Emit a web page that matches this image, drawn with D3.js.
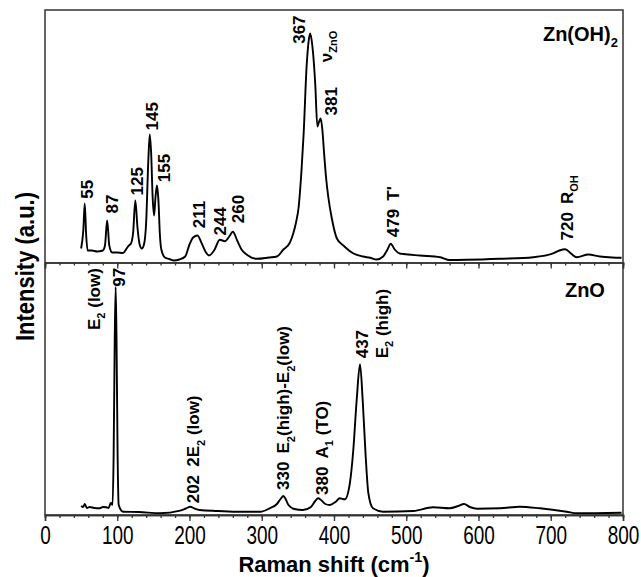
<!DOCTYPE html>
<html>
<head>
<meta charset="utf-8">
<script src="https://cdn.jsdelivr.net/npm/d3@7"></script>
<style>
    body { margin: 0; background: #fff; }
    text { font-family: "Liberation Sans", Arial, sans-serif; fill: #000; }
</style>
</head>
<body>
<div id="container"></div>
<script>
"use strict";

// Zn(OH)2 spectrum (top panel)
const znohShift = [50, 53, 55, 57, 59, 65, 72, 80, 83, 86, 89, 93, 100, 108, 113, 116, 119, 122, 125, 128,
    131, 134, 137, 140, 143, 145, 147, 149, 151, 153, 155, 157, 159, 161, 166, 172, 178, 186, 194, 200,
    205, 211, 217, 222, 227, 234, 242, 249, 255, 260, 266, 272, 279, 293, 310, 321, 330, 339, 344, 348,
    351, 355, 358, 362, 365, 367, 370, 374, 377, 379, 381.5, 384, 386, 389, 392, 397, 404, 413, 427, 440,
    450, 459, 468, 474, 478.5, 484, 491, 496, 519, 547, 560, 584, 630, 676, 704, 712, 720, 728, 736, 752,
    768, 785, 798];
const znohIntensity = [14, 32, 59, 27, 12, 12, 11, 12, 17, 42, 17, 10, 10, 9.5, 14, 17, 19, 30, 62, 35,
    18, 14, 18, 40, 102, 128, 108, 65, 47, 66, 77, 62, 28, 13, 5, 3.5, 2, 3, 6, 18,
    25, 27, 19, 11, 7, 12, 22.7, 21.3, 26, 30.7, 22, 13, 8, 3.7, 5, 6, 13, 20, 30, 42,
    55, 92, 129, 195, 222, 229, 217, 179, 136, 140, 144, 132, 112, 85, 66, 44, 24, 17, 9, 6,
    4.7, 3, 6, 13, 18.7, 13, 9, 8.5, 7, 5.3, 2.5, 2.7, 3.7, 5.3, 9.3, 12, 13.3, 9, 5.3, 8,
    6, 5, 4.7];

// ZnO spectrum (bottom panel)
const znoShift = [50, 53, 55, 58, 62, 68, 76, 80, 85, 88, 91, 93.5, 95, 96.5, 97.8, 99, 100.5, 102, 108, 130,
    159, 187, 195, 201, 207, 214, 240, 260, 298, 311, 321, 326, 330, 333, 337, 345, 357, 368, 374, 378,
    382, 388, 394, 402, 408, 415, 422, 426.7, 431.4, 436, 439.7, 443.9, 447.5, 454, 468, 510, 537, 560, 572, 580,
    588, 598, 630, 657, 685, 722, 736, 798];
const znoIntensity = [9, 8, 11, 7, 8, 7, 6.7, 8, 7.7, 7, 12, 10, 60, 175, 228, 175, 60, 10, 3.3, 3,
    1.7, 4.3, 6.5, 8.3, 6.5, 5, 4, 3.3, 3.3, 6.7, 11, 16, 19, 16, 10, 6, 5, 8, 14, 16.7,
    15, 11, 10, 13, 16.7, 15.7, 32, 65, 115, 150.7, 115, 58, 22, 6.7, 3.3, 4, 7.7, 6.7, 9, 11,
    8, 6.3, 6.7, 8.3, 6.7, 3.3, 1.7, 2.3];

// peak annotations: text, shift where the label sits, intensity at its foot
const znohLabelText = ["55", "87", "125", "145", "155", "211", "244", "260", "367", "ν_{ZnO}", "381",
    "479\u00a0\u2009T'", "720\u00a0\u2009R_{OH}"];
const znohLabelShift = [58.5, 92.3, 126.9, 147.7, 164.7, 213.1, 242.2, 267.5, 352, 388.9, 395.4, 482, 722];
const znohLabelIntensity = [63.7, 49, 67, 132, 80.3, 34.3, 27, 39.3, 218.7, 200.3, 147, 25.3, 22];

const znoLabelText = ["E_{2} (low)", "97", "202\u00a0\u20092E_{2} (low)", "330\u00a0\u2009E_{2}(high)-E_{2}(low)",
    "380\u00a0\u2009A_{1} (TO)", "437", "E_{2} (high)"];
const znoLabelShift = [67.8, 101.7, 205.3, 329.8, 383, 438.3, 466];
const znoLabelIntensity = [185, 228.3, 11.7, 25, 20, 156.7, 156.7];

const xTicks = [0, 100, 200, 300, 400, 500, 600, 700, 800];

// writes "a_{b}" as subscript and "a^{b}" as superscript tspans
function richText(sel, str, size) {
    const parts = str.split(/([_^])\{([^}]*)\}/);
    let shift = 0;
    for (let i = 0; i < parts.length; i += 3) {
        if (parts[i]) {
            const t = sel.append("tspan").text(parts[i]);
            if (shift) t.attr("dy", -shift);
            shift = 0;
        }
        if (i + 1 < parts.length) {
            const d = parts[i + 1] === "_" ? size * 0.3 : -size * 0.45;
            sel.append("tspan")
                .attr("dy", d - shift)
                .style("font-size", size * 0.65 + "px")
                .text(parts[i + 2]);
            shift = d;
        }
    }
}

function drawChart() {
    const width = 641, height = 577;
    const plot = { left: 45, right: 623, top: 10, mid: 262.5, bottom: 515 };

    const svg = d3.select("#container")
        .append("svg")
        .attr("width", width)
        .attr("height", height);

    const x = d3.scaleLinear().domain([0, 800]).range([plot.left, plot.right]);
    const yTop = d3.scaleLinear().domain([0, 252.5]).range([plot.mid, plot.top]);
    const yBot = d3.scaleLinear().domain([0, 252.5]).range([plot.bottom, plot.mid]);

    // spectra
    const spectra = [
        { xs: znohShift, ys: znohIntensity, y: yTop },
        { xs: znoShift, ys: znoIntensity, y: yBot },
    ];
    spectra.forEach((s) => {
        const line = d3.line()
            .x((d) => x(d[0]))
            .y((d) => s.y(d[1]))
            .curve(d3.curveMonotoneX);
        svg.append("path")
            .datum(d3.zip(s.xs, s.ys))
            .attr("fill", "none")
            .attr("stroke", "#000")
            .attr("stroke-width", 1.9)
            .attr("stroke-linejoin", "round")
            .attr("d", line);
    });

    // frame
    svg.append("rect")
        .attr("x", plot.left)
        .attr("y", plot.top)
        .attr("width", plot.right - plot.left)
        .attr("height", plot.bottom - plot.top)
        .attr("fill", "none")
        .attr("stroke", "#333")
        .attr("stroke-width", 1.5);

    // x axes: labelled one at the bottom, tick-only one on the panel divider
    [plot.bottom, plot.mid].forEach((yPos, i) => {
        const major = svg.append("g")
            .attr("transform", `translate(0, ${yPos})`)
            .call(d3.axisBottom(x).tickValues(xTicks).tickSize(6).tickPadding(5)
                .tickFormat(i === 0 ? d3.format("d") : ""));
        const minor = svg.append("g")
            .attr("transform", `translate(0, ${yPos})`)
            .call(d3.axisBottom(x).tickValues(d3.range(0, 801, 20)).tickSize(3).tickFormat(""));
        [major, minor].forEach((g) => {
            g.select(".domain").attr("stroke", "#333").attr("stroke-width", 1.5);
            g.selectAll(".tick line").attr("stroke", "#333").attr("stroke-width", 1.3);
        });
        major.selectAll(".tick text")
            .style("font-size", "26px")
            .attr("fill", "#000")
            .attr("transform", "scale(0.73, 1)");
    });

    // axis titles
    const xTitle = svg.append("text")
        .attr("x", (plot.left + plot.right) / 2)
        .attr("y", 572)
        .attr("text-anchor", "middle")
        .style("font-size", "22px")
        .style("font-weight", "bold");
    richText(xTitle, "Raman shift (cm^{-1})", 22);

    svg.append("text")
        .attr("transform", `translate(34, ${(plot.top + plot.bottom) / 2 + 4}) rotate(-90) scale(0.88, 1)`)
        .attr("text-anchor", "middle")
        .style("font-size", "25px")
        .style("font-weight", "bold")
        .text("Intensity (a.u.)");

    // peak labels, rotated
    const labelSize = 17;
    const addLabels = (texts, shifts, ints, y) => {
        texts.forEach((t, i) => {
            const lab = svg.append("text")
                .attr("transform", `translate(${x(shifts[i]) + labelSize * 0.36}, ${y(ints[i])}) rotate(-90)`)
                .style("font-size", labelSize + "px")
                .style("font-weight", "bold");
            richText(lab, t, labelSize);
        });
    };
    addLabels(znohLabelText, znohLabelShift, znohLabelIntensity, yTop);
    addLabels(znoLabelText, znoLabelShift, znoLabelIntensity, yBot);

    // sample names
    const nameSize = 20;
    const znoh = svg.append("text")
        .attr("x", x(793))
        .attr("y", yTop(222))
        .attr("text-anchor", "end")
        .style("font-size", nameSize + "px")
        .style("font-weight", "bold");
    richText(znoh, "Zn(OH)_{2}", nameSize);

    svg.append("text")
        .attr("x", x(775))
        .attr("y", yBot(217.7))
        .attr("text-anchor", "end")
        .style("font-size", nameSize + "px")
        .style("font-weight", "bold")
        .text("ZnO");
}

drawChart();
</script>
</body>
</html>
